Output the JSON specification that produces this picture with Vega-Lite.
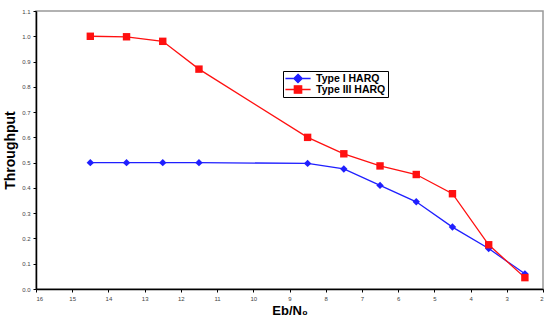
{
  "$schema": "https://vega.github.io/schema/vega-lite/v6.json",
  "width": 507,
  "height": 278,
  "autosize": {"type": "none"},
  "padding": {"left": 36, "top": 11, "right": 10, "bottom": 34},
  "background": "white",
  "config": {
    "font": "Liberation Sans",
    "view": {"stroke": "#999999", "strokeWidth": 1.5},
    "axis": {"grid": false, "domainColor": "black", "domainWidth": 1.5, "tickColor": "black", "labelColor": "#444444", "labelFontSize": 6, "labelFont": "Liberation Sans", "titleFont": "Liberation Sans", "titleFontWeight": "bold", "titleColor": "black"}
  },
  "data": {
    "values": [
      {"ebn0": 14.5, "throughput": 0.5, "series": "Type I HARQ"},
      {"ebn0": 13.5, "throughput": 0.5, "series": "Type I HARQ"},
      {"ebn0": 12.5, "throughput": 0.5, "series": "Type I HARQ"},
      {"ebn0": 11.5, "throughput": 0.5, "series": "Type I HARQ"},
      {"ebn0": 8.5, "throughput": 0.497, "series": "Type I HARQ"},
      {"ebn0": 7.5, "throughput": 0.475, "series": "Type I HARQ"},
      {"ebn0": 6.5, "throughput": 0.41, "series": "Type I HARQ"},
      {"ebn0": 5.5, "throughput": 0.345, "series": "Type I HARQ"},
      {"ebn0": 4.5, "throughput": 0.245, "series": "Type I HARQ"},
      {"ebn0": 3.5, "throughput": 0.16, "series": "Type I HARQ"},
      {"ebn0": 2.5, "throughput": 0.06, "series": "Type I HARQ"},
      {"ebn0": 14.5, "throughput": 1.0, "series": "Type III HARQ"},
      {"ebn0": 13.5, "throughput": 0.998, "series": "Type III HARQ"},
      {"ebn0": 12.5, "throughput": 0.98, "series": "Type III HARQ"},
      {"ebn0": 11.5, "throughput": 0.87, "series": "Type III HARQ"},
      {"ebn0": 8.5, "throughput": 0.6, "series": "Type III HARQ"},
      {"ebn0": 7.5, "throughput": 0.535, "series": "Type III HARQ"},
      {"ebn0": 6.5, "throughput": 0.487, "series": "Type III HARQ"},
      {"ebn0": 5.5, "throughput": 0.453, "series": "Type III HARQ"},
      {"ebn0": 4.5, "throughput": 0.377, "series": "Type III HARQ"},
      {"ebn0": 3.5, "throughput": 0.175, "series": "Type III HARQ"},
      {"ebn0": 2.5, "throughput": 0.045, "series": "Type III HARQ"}
    ]
  },
  "encoding": {
    "x": {"field": "ebn0", "type": "quantitative", "title": "Eb/N₀",
      "scale": {"domain": [16, 2], "nice": false, "zero": false},
      "axis": {"values": [16,15,14,13,12,11,10,9,8,7,6,5,4,3,2], "tickSize": 3, "labelPadding": 3, "titleFontSize": 13, "titlePadding": 3}},
    "y": {"field": "throughput", "type": "quantitative", "title": "Throughput",
      "scale": {"domain": [0, 1.1], "nice": false},
      "axis": {"values": [0,0.1,0.2,0.3,0.4,0.5,0.6,0.7,0.8,0.9,1.0,1.1], "format": ".1f", "tickSize": 3, "labelPadding": 3, "titleFontSize": 14, "titlePadding": 4}},
    "color": {"field": "series", "type": "nominal",
      "scale": {"domain": ["Type I HARQ", "Type III HARQ"], "range": ["#1f1fff", "#ff1010"]},
      "legend": {
        "title": null, "orient": "none", "legendX": 247, "legendY": 60,
        "fillColor": "white", "strokeColor": "black", "padding": 2,
        "labelFontSize": 10.5, "labelFontWeight": "bold", "labelColor": "black",
        "symbolSize": 110, "rowPadding": 0, "clipHeight": 11,
        "symbolOffset": 7, "labelOffset": 12,
        "symbolStrokeWidth": 1.3,
        "encode": {
          "legend": {"update": {"stroke": {"value": "black"}, "strokeWidth": {"value": 1}, "fill": {"value": "white"}}},
          "symbols": {"update": {
            "shape": {"signal": "datum.value === 'Type I HARQ' ? 'M-2.4,0H2.4M0,-0.8L0.8,0L0,0.8L-0.8,0Z' : 'M-2.4,0H2.4M-0.7,-0.7H0.7V0.7H-0.7Z'"},
            "fill": {"signal": "datum.value === 'Type I HARQ' ? '#1f1fff' : '#ff1010'"},
            "stroke": {"signal": "datum.value === 'Type I HARQ' ? '#1f1fff' : '#ff1010'"},
            "strokeWidth": {"value": 1.3},
            "fillOpacity": {"value": 1},
            "opacity": {"value": 1}
          }}
        }
      }}
  },
  "layer": [
    {
      "mark": {"type": "line", "strokeWidth": 1.3}
    },
    {
      "transform": [{"filter": "datum.series === 'Type I HARQ'"}],
      "mark": {"type": "point", "filled": true, "opacity": 1, "shape": "diamond", "size": 55}
    },
    {
      "transform": [{"filter": "datum.series === 'Type III HARQ'"}],
      "mark": {"type": "point", "filled": true, "opacity": 1, "shape": "square", "size": 55}
    }
  ]
}
